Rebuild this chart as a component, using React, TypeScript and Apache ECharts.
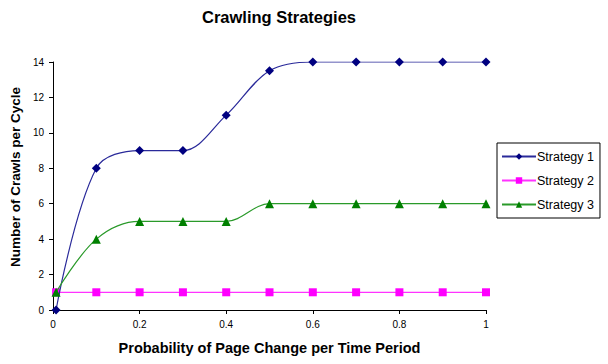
import React, { useEffect, useRef } from "react";
import * as echarts from "echarts";

const probabilities = [0.007, 0.1, 0.2, 0.3, 0.4, 0.5, 0.6, 0.7, 0.8, 0.9, 1.0];
const strategy1 = [0, 8, 9, 9, 11, 13.5, 14, 14, 14, 14, 14];
const strategy2 = [1, 1, 1, 1, 1, 1, 1, 1, 1, 1, 1];
const strategy3 = [1, 4, 5, 5, 5, 6, 6, 6, 6, 6, 6];
const seriesNames = ["Strategy 1", "Strategy 2", "Strategy 3"];

const pairs = (ys: number[]) => probabilities.map((x, i) => [x, ys[i]]);

export default function App() {
  const ref = useRef<HTMLDivElement>(null);
  useEffect(() => {
    if (!ref.current) return;
    const chart = echarts.init(ref.current, null, { renderer: "svg" });
    const font = "Arial, 'Liberation Sans', sans-serif";
    chart.setOption({
      animation: false,
      backgroundColor: "#ffffff",
      title: {
        text: "Crawling Strategies",
        left: 274,
        top: 3,
        textAlign: "center",
        textStyle: { fontFamily: font, fontSize: 16.5, fontWeight: "bold", color: "#000" },
      },
      legend: {
        orient: "vertical",
        left: 497,
        top: 143,
        padding: [7, 6, 7, 4],
        borderColor: "#000",
        borderWidth: 1,
        itemWidth: 34,
        itemHeight: 8,
        itemGap: 11,
        textStyle: { fontFamily: font, fontSize: 12.5, color: "#000", padding: [0, 0, 0, -4] },
        data: seriesNames,
      },
      grid: { left: 49, right: 122, top: 62, bottom: 54 },
      xAxis: {
        type: "value",
        min: 0,
        max: 1,
        interval: 0.2,
        name: "Probability of Page Change per Time Period",
        nameLocation: "middle",
        nameGap: 30,
        nameTextStyle: { fontFamily: font, fontSize: 14.5, fontWeight: "bold", color: "#000" },
        axisLine: { lineStyle: { color: "#000", width: 1 } },
        axisTick: { show: true, length: 4, lineStyle: { color: "#000" } },
        splitLine: { show: false },
        axisLabel: { fontFamily: font, fontSize: 10, color: "#000", margin: 9 },
      },
      yAxis: {
        type: "value",
        min: 0,
        max: 14,
        interval: 2,
        name: "Number of Crawls per Cycle",
        nameLocation: "middle",
        nameGap: 30,
        nameTextStyle: {
          fontFamily: font,
          fontSize: 13.5,
          fontWeight: "bold",
          color: "#000",
          padding: [0, 0, 0, 18],
        },
        axisLine: { show: true, lineStyle: { color: "#000", width: 1 } },
        axisTick: { show: true, length: 4, lineStyle: { color: "#000" } },
        splitLine: { show: false },
        axisLabel: { fontFamily: font, fontSize: 10, color: "#000", margin: 9 },
      },
      series: [
        {
          name: seriesNames[0],
          type: "line",
          data: pairs(strategy1),
          smooth: 0.35,
          symbol: "diamond",
          symbolSize: 9,
          lineStyle: { color: "#2a2a9a", width: 1.2 },
          itemStyle: { color: "#000080" },
          z: 3,
        },
        {
          name: seriesNames[1],
          type: "line",
          data: pairs(strategy2),
          smooth: 0.35,
          symbol: "rect",
          symbolSize: 8,
          lineStyle: { color: "#ff33ff", width: 1.2 },
          itemStyle: { color: "#ff00ff" },
          z: 2,
        },
        {
          name: seriesNames[2],
          type: "line",
          data: pairs(strategy3),
          smooth: 0.35,
          symbol: "triangle",
          symbolSize: 9,
          lineStyle: { color: "#2a9a2a", width: 1.2 },
          itemStyle: { color: "#008000" },
          z: 4,
        },
      ],
    });
    return () => chart.dispose();
  }, []);
  return (
    <div
      ref={ref}
      style={{ position: "fixed", left: 0, top: 0, width: 608, height: 364 }}
    />
  );
}
